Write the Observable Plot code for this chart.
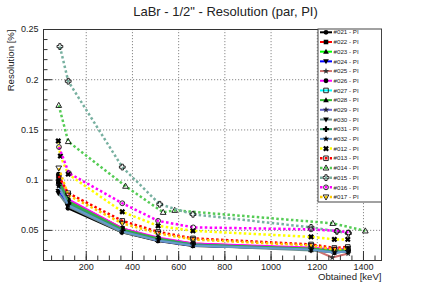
<!DOCTYPE html>
<html><head><meta charset="utf-8">
<script src="https://cdn.jsdelivr.net/npm/d3@7"></script>
<script src="https://cdn.jsdelivr.net/npm/@observablehq/plot@0.6"></script>
<style>
body{margin:0;background:#fff;}
#wrap{position:relative;width:424px;height:289px;}
#wrap svg{font-family:"Liberation Sans",Arial,Helvetica,sans-serif;}
#legend{position:absolute;left:0;top:0;pointer-events:none;}
</style>
</head><body><div id="wrap"></div>
<script>
// ---- data (energy [keV], resolution) ----
const e021 = [80, 121, 354, 510, 661, 1172, 1272, 1331], r021 = [0.098, 0.072, 0.048, 0.0395, 0.0345, 0.0315, 0.029, 0.029];
const e022 = [82, 122, 357, 512, 663, 1174, 1275, 1333], r022 = [0.104, 0.080, 0.052, 0.042, 0.037, 0.032, 0.030, 0.031];
const e023 = [81, 123, 356, 511, 662, 1173, 1274, 1332], r023 = [0.102, 0.079, 0.051, 0.041, 0.036, 0.031, 0.029, 0.030];
const e024 = [79, 120, 355, 510, 661, 1172, 1273, 1331], r024 = [0.089, 0.075, 0.049, 0.040, 0.035, 0.031, 0.028, 0.029];
const e025 = [83, 124, 358, 513, 664, 1175, 1265, 1334], r025 = [0.096, 0.077, 0.050, 0.041, 0.036, 0.032, 0.023, 0.027];
const e026 = [80, 121, 356, 511, 662, 1173, 1274, 1332], r026 = [0.106, 0.081, 0.052, 0.043, 0.037, 0.033, 0.031, 0.032];
const e027 = [82, 122, 355, 511, 662, 1173, 1274, 1332], r027 = [0.099, 0.078, 0.050, 0.041, 0.036, 0.031, 0.029, 0.030];
const e028 = [81, 122, 357, 512, 663, 1174, 1275, 1333], r028 = [0.101, 0.079, 0.051, 0.042, 0.036, 0.032, 0.030, 0.031];
const e029 = [80, 121, 356, 510, 661, 1172, 1273, 1331], r029 = [0.095, 0.076, 0.049, 0.040, 0.035, 0.031, 0.028, 0.029];
const e030 = [79, 120, 355, 511, 662, 1173, 1274, 1332], r030 = [0.087, 0.074, 0.048, 0.040, 0.035, 0.030, 0.028, 0.029];
const e031 = [82, 123, 357, 511, 662, 1173, 1274, 1332], r031 = [0.097, 0.077, 0.050, 0.041, 0.036, 0.031, 0.029, 0.030];
const e032 = [81, 122, 356, 512, 663, 1174, 1275, 1333], r032 = [0.094, 0.075, 0.049, 0.040, 0.035, 0.031, 0.028, 0.029];
const e012 = [79, 88, 122, 356, 511, 662, 1173, 1274, 1332], r012 = [0.139, 0.124, 0.106, 0.0685, 0.0545, 0.0495, 0.0435, 0.041, 0.041];
const e013 = [81, 122, 356, 511, 662, 1173, 1274, 1332], r013 = [0.104, 0.087, 0.0595, 0.0485, 0.042, 0.036, 0.0325, 0.0335];
const e014 = [81, 122, 370, 533, 583, 1267, 1408], r014 = [0.1745, 0.1385, 0.094, 0.068, 0.070, 0.057, 0.0495];
const e015 = [86, 122, 356, 518, 662, 1173, 1285, 1335], r015 = [0.233, 0.1985, 0.113, 0.076, 0.066, 0.053, 0.049, 0.047];
const e016 = [82, 125, 356, 511, 663, 1173, 1285, 1335], r016 = [0.133, 0.107, 0.077, 0.0595, 0.053, 0.051, 0.0495, 0.048];
const e017 = [81, 122, 356, 511, 662, 1173, 1274, 1332], r017 = [0.112, 0.085, 0.057, 0.047, 0.041, 0.035, 0.031, 0.032];

const names = ["#021 - PI","#022 - PI","#023 - PI","#024 - PI","#025 - PI","#026 - PI","#027 - PI","#028 - PI","#029 - PI","#030 - PI","#031 - PI","#032 - PI","#012 - PI","#013 - PI","#014 - PI","#015 - PI","#016 - PI","#017 - PI"];
const energyArrays = [e021,e022,e023,e024,e025,e026,e027,e028,e029,e030,e031,e032,e012,e013,e014,e015,e016,e017];
const resArrays = [r021,r022,r023,r024,r025,r026,r027,r028,r029,r030,r031,r032,r012,r013,r014,r015,r016,r017];

const xMajor = [200, 400, 600, 800, 1000, 1200, 1400];
const yMajor = [0.05, 0.1, 0.15, 0.2, 0.25];

// ---- styles ----
const colors = ["#000000","#ff0000","#00ff00","#0000ff","#d07070","#ff00ff","#00ffff","#33bb33","#6666cc","#6f8f8f","#339966","#6699cc","#ffff00","#ff0000","#55cc55","#77b0a0","#ff00ff","#ffcc00"];
const dotted = names.map((_, i) => i >= 12);

// marker symbols
function rad(size){ return Math.sqrt(size / Math.PI); }
const symTriUp = {draw(c, s){ const r = rad(s)*1.25; c.moveTo(0,-r); c.lineTo(r*0.95, r*0.7); c.lineTo(-r*0.95, r*0.7); c.closePath(); }};
const symTriDown = {draw(c, s){ const r = rad(s)*1.25; c.moveTo(0,r); c.lineTo(r*0.95,-r*0.7); c.lineTo(-r*0.95,-r*0.7); c.closePath(); }};
const symSquare = {draw(c, s){ const r = rad(s)*0.95; c.rect(-r,-r,2*r,2*r); }};
const symCircle = {draw(c, s){ const r = rad(s); c.moveTo(r,0); c.arc(0,0,r,0,2*Math.PI); c.closePath(); }};
const symStar = {draw(c, s){ const r = rad(s)*1.4, ri = r*0.42; for (let k=0;k<10;k++){ const a = -Math.PI/2 + k*Math.PI/5, rr = k%2 ? ri : r; const px = rr*Math.cos(a), py = rr*Math.sin(a); k ? c.lineTo(px,py) : c.moveTo(px,py);} c.closePath(); }};
function crossPts(r, w){ return [[-w,-r],[w,-r],[w,-w],[r,-w],[r,w],[w,w],[w,r],[-w,r],[-w,w],[-r,w],[-r,-w],[-w,-w]]; }
const symCross = {draw(c, s){ const r = rad(s)*1.2, w = r*0.38; crossPts(r,w).forEach((p,k)=> k? c.lineTo(p[0],p[1]) : c.moveTo(p[0],p[1])); c.closePath(); }};
const symX = {draw(c, s){ const r = rad(s)*1.25, w = r*0.38, a = Math.PI/4, ca=Math.cos(a), sa=Math.sin(a); crossPts(r,w).forEach((p,k)=>{ const px=p[0]*ca-p[1]*sa, py=p[0]*sa+p[1]*ca; k? c.lineTo(px,py) : c.moveTo(px,py);}); c.closePath(); }};

const symbols = [symCircle, symSquare, symTriUp, symTriDown, symStar, symCircle, symSquare, symTriUp, symStar, symTriDown, symCross, symStar, symX, symSquare, symTriUp, symCross, symCircle, symTriDown];
const openMarker = [false,false,false,false,false,false,true,false,false,false,false,false,false,true,true,true,true,true];
const markerColor = ["#000","#000","#000","#000","#333","#000","#000","#000","#223","#000","#000","#000","#000","#000","#000","#000","#000","#000"];

// ---- build ----
const W = 424, H = 289, mL = 43, mR = 43, mT = 29, mB = 29;
const innerW = W - mL - mR, innerH = H - mT - mB;
const xDomain = [15, 1478], yDomain = [0.02, 0.25];

const xMinor = d3.range(50, 1451, 50);
const yMinor = d3.range(2, 26, 1).map(v => v / 100);

const marks = [
  Plot.ruleX(xMajor, {x: d => d, stroke: "#8a8a8a", strokeDasharray: "1.2,1.8", strokeWidth: 1}),
  Plot.ruleY(yMajor.slice(0, 4), {y: d => d, stroke: "#8a8a8a", strokeDasharray: "1.2,1.8", strokeWidth: 1}),
];

names.forEach((name, i) => {
  const data = energyArrays[i].map((e, k) => ({e, r: resArrays[i][k]}));
  marks.push(Plot.line(data, {x: "e", y: "r", stroke: colors[i], strokeWidth: dotted[i] ? 2.5 : 2,
    strokeDasharray: dotted[i] ? "2.5,2.4" : null, strokeLinecap: "butt", curve: "linear"}));
  marks.push(Plot.dot(data, {x: "e", y: "r", symbol: symbols[i], r: 2.4,
    fill: openMarker[i] ? "none" : markerColor[i], stroke: openMarker[i] ? "#111" : "none", strokeWidth: 0.9}));
});

marks.push(
  Plot.tickY(yMinor, {y: d => d, stroke: "#333", strokeWidth: 1, insetRight: innerW - 4.5}),
  Plot.tickY(yMajor, {y: d => d, stroke: "#333", strokeWidth: 1, insetRight: innerW - 9}),
  Plot.tickX(xMinor, {x: d => d, stroke: "#333", strokeWidth: 1, insetTop: innerH - 4.5}),
  Plot.tickX(xMajor, {x: d => d, stroke: "#333", strokeWidth: 1, insetTop: innerH - 9}),
  Plot.frame({stroke: "#333", strokeWidth: 1}),
  Plot.axisY(yMajor, {tickSize: 0, tickPadding: 5, fontSize: 9, tickFormat: d => String(+d.toFixed(2)), label: null, fill: "#222"}),
  Plot.axisX(xMajor, {tickSize: 0, tickPadding: 3, fontSize: 9, tickFormat: d => String(d), label: null, fill: "#222"}),
  Plot.text(["LaBr - 1/2\" - Resolution (par, PI)"], {frameAnchor: "top", lineAnchor: "middle", dx: 13, dy: -18, fontSize: 13, fill: "#222"}),
  Plot.text(["Resolution [%]"], {frameAnchor: "top-left", rotate: -90, textAnchor: "end", dx: -36, fontSize: 9.6, fill: "#222"}),
  Plot.text(["Obtained [keV]"], {frameAnchor: "bottom-right", lineAnchor: "middle", textAnchor: "end", dy: 16.5, fontSize: 9.6, fill: "#222"})
);

const chart = Plot.plot({
  width: W, height: H,
  marginLeft: mL, marginRight: mR, marginTop: mT, marginBottom: mB,
  x: {domain: xDomain, axis: null},
  y: {domain: yDomain, axis: null},
  style: {background: "#fff", fontFamily: "'Liberation Sans', Arial, sans-serif", overflow: "visible"},
  marks
});
const wrap = document.getElementById("wrap");
wrap.appendChild(chart);

// ---- legend overlay (inside the frame, top right) ----
const lx = 318, ly = 29, lw = W - mR - lx + 0.5, lh = 173;
const rowH = 9.69, row0 = ly + 3.3;
const leg = d3.select(wrap).append("svg").attr("id", "legend").attr("width", W).attr("height", H);
leg.append("rect").attr("x", lx).attr("y", ly).attr("width", lw).attr("height", lh)
  .attr("fill", "#fff").attr("stroke", "#444").attr("stroke-width", 1);
names.forEach((name, i) => {
  const cy = row0 + i * rowH;
  const g = leg.append("g");
  g.append("line").attr("x1", 320).attr("x2", 332).attr("y1", cy).attr("y2", cy)
    .attr("stroke", colors[i]).attr("stroke-width", dotted[i] ? 2.5 : 2)
    .attr("stroke-dasharray", dotted[i] ? "2.5,2.4" : null);
  g.append("path").attr("transform", `translate(326,${cy})`)
    .attr("d", d3.symbol(symbols[i], Math.PI * 2.4 * 2.4)())
    .attr("fill", openMarker[i] ? "none" : markerColor[i])
    .attr("stroke", openMarker[i] ? "#111" : "none").attr("stroke-width", 0.9);
  g.append("text").attr("x", 333.5).attr("y", cy).attr("dy", "0.35em")
    .attr("font-size", 6.2).attr("fill", "#222").text(name);
});
</script>
</body></html>
